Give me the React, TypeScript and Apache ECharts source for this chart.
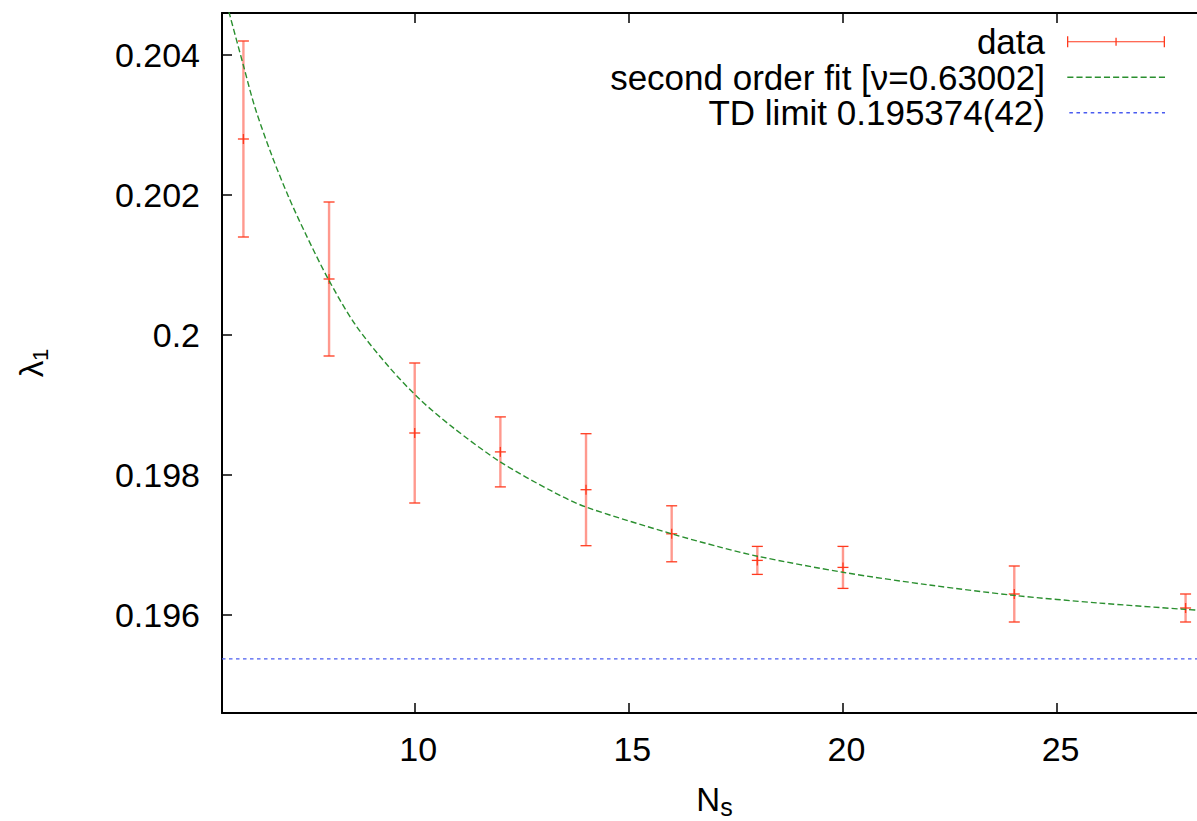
import React, { useEffect, useRef } from "react";
import * as echarts from "echarts";

// ---- data ----
const nsValues = [6, 8, 10, 12, 14, 16, 18, 20, 24, 28];
const lambdaValues = [0.2028, 0.2008, 0.1986, 0.19833, 0.19779, 0.19716, 0.19678, 0.19668, 0.1963, 0.1961];
const lambdaErrors = [0.0014, 0.0011, 0.001, 0.0005, 0.0008, 0.0004, 0.0002, 0.0003, 0.0004, 0.0002];

const fitNs = [5.66, 6.0, 6.27, 6.66, 7.05, 7.44, 7.98, 8.61, 9.39, 10.12, 10.89, 11.99, 13.23, 14.01, 16.0, 17.13, 18, 20, 22, 24, 26, 28, 28.5];
const fitValues = [0.20462, 0.20385, 0.20325, 0.20257, 0.20198, 0.20146, 0.2008, 0.20015, 0.19955, 0.19908, 0.19868, 0.19819, 0.19776, 0.19754, 0.19716, 0.19697, 0.19684, 0.19661, 0.19643, 0.19628, 0.19617, 0.19608, 0.19606];

const tdLimit = 0.195374;
const xRange = [5.5, 28.5];
const yRange = [0.1946, 0.2046];
const xTicks = [10, 15, 20, 25];
const yTicks = [0.196, 0.198, 0.2, 0.202, 0.204];

const seriesNames = ["data", "second order fit [ν=0.63002]", "TD limit 0.195374(42)"];

const FONT = "'Liberation Sans', Arial, Helvetica, sans-serif";
const RED = "#ff3a1e";
const GREEN = "#2a8f2f";
const BLUE = "#4a5cf0";

function dashIcon(dash: number, gap: number, start: number, end: number, h: number): string {
  let d = "M0 0h0.01v0.01H0z";
  for (let x = start; x < end - 0.5; x += dash + gap) {
    const w = Math.min(dash, end - x);
    d += ` M${x} 0h${w}v${h}h-${w}z`;
  }
  return "path://" + d;
}

const dataIcon =
  "path://M0 5.5h0.01v0.01H0z " +
  "M17 4.9h98v1.2H17z " +
  "M17 0h1.3v11H17z " +
  "M113.7 0h1.3v11h-1.3z " +
  "M65.4 1.5h1.3v8h-1.3z";

export default function App() {
  const ref = useRef<HTMLDivElement>(null);
  useEffect(() => {
    if (!ref.current) return;
    const chart = echarts.init(ref.current, null, { renderer: "svg" });

    const errData = nsValues.map((n, i) => [n, lambdaValues[i], lambdaValues[i] - lambdaErrors[i], lambdaValues[i] + lambdaErrors[i]]);
    const fitData = fitNs.map((n, i) => [n, fitValues[i]]);
    const tdData = [[xRange[0], tdLimit], [xRange[1], tdLimit]];

    const axisCommon = {
      type: "value" as const,
      axisLine: { show: true, lineStyle: { color: "#000", width: 2 } },
      splitLine: { show: false },
    };

    chart.setOption({
      animation: false,
      backgroundColor: "#fff",
      grid: { left: 222, top: 13, width: 985, height: 700, outerBoundsMode: "none", containLabel: false },
      legend: {
        orient: "vertical",
        right: 32,
        top: 24,
        padding: 0,
        itemGap: 0,
        align: "right",
        itemWidth: 115,
        itemHeight: 14,
        selectedMode: false,
        itemStyle: { borderWidth: 0 },
        textStyle: { fontSize: 35, fontFamily: FONT, color: "#000", lineHeight: 35.5 },
        data: [
          { name: seriesNames[0], icon: dataIcon },
          { name: seriesNames[1], icon: dashIcon(6, 3, 17, 115, 1.3) },
          { name: seriesNames[2], icon: dashIcon(3.5, 3.5, 19, 113, 1.3) },
        ],
      },
      xAxis: [
        {
          ...axisCommon,
          position: "bottom",
          min: xRange[0],
          max: xRange[1],
          axisTick: { show: true, inside: true, length: 10, customValues: xTicks, lineStyle: { color: "#000", width: 1.5 } },
          axisLabel: { show: true, customValues: xTicks, fontSize: 34, fontFamily: FONT, color: "#000", margin: 19, padding: [0, 0, 0, 7] },
          name: "{n|N}{s|s}",
          nameLocation: "middle",
          nameGap: 66,
          nameTextStyle: {
            rich: {
              n: { fontSize: 33, fontFamily: FONT, color: "#000", lineHeight: 40 },
              s: { fontSize: 25, fontFamily: FONT, color: "#000", lineHeight: 18, verticalAlign: "bottom" },
            },
          },
        },
        {
          ...axisCommon,
          position: "top",
          min: xRange[0],
          max: xRange[1],
          axisTick: { show: true, inside: true, length: 10, customValues: xTicks, lineStyle: { color: "#000", width: 1.5 } },
          axisLabel: { show: false },
        },
      ],
      yAxis: [
        {
          ...axisCommon,
          position: "left",
          min: yRange[0],
          max: yRange[1],
          axisTick: { show: true, inside: true, length: 10, customValues: yTicks, lineStyle: { color: "#000", width: 1.5 } },
          axisLabel: {
            show: true,
            customValues: yTicks,
            fontSize: 34,
            fontFamily: FONT,
            color: "#000",
            margin: 22,
            formatter: (v: number) => String(Number(v.toFixed(4))),
          },
          name: "{l|λ}{o|1}",
          nameLocation: "middle",
          nameGap: 171,
          nameTextStyle: {
            rich: {
              l: { fontSize: 33, fontFamily: FONT, color: "#000", lineHeight: 40 },
              o: { fontSize: 22, fontFamily: FONT, color: "#000", lineHeight: 18, verticalAlign: "bottom" },
            },
          },
        },
        {
          ...axisCommon,
          position: "right",
          min: yRange[0],
          max: yRange[1],
          axisTick: { show: true, inside: true, length: 10, customValues: yTicks, lineStyle: { color: "#000", width: 1.5 } },
          axisLabel: { show: false },
        },
      ],
      series: [
        {
          name: seriesNames[0],
          type: "custom",
          xAxisIndex: 0,
          yAxisIndex: 0,
          itemStyle: { color: RED },
          encode: { x: 0, y: 1 },
          data: errData,
          renderItem: (params: any, api: any) => {
            const x = api.value(0);
            const c = api.coord([x, api.value(1)]);
            const lo = api.coord([x, api.value(2)]);
            const hi = api.coord([x, api.value(3)]);
            const hw = 5.5;
            return {
              type: "group",
              children: [
                { type: "line", shape: { x1: c[0], y1: hi[1], x2: c[0], y2: lo[1] }, style: { stroke: "rgba(255,70,50,0.55)", lineWidth: 2.4 } },
                { type: "line", shape: { x1: c[0] - hw, y1: hi[1], x2: c[0] + hw, y2: hi[1] }, style: { stroke: RED, lineWidth: 1.3 } },
                { type: "line", shape: { x1: c[0] - hw, y1: lo[1], x2: c[0] + hw, y2: lo[1] }, style: { stroke: RED, lineWidth: 1.3 } },
                { type: "line", shape: { x1: c[0] - hw, y1: c[1], x2: c[0] + hw, y2: c[1] }, style: { stroke: RED, lineWidth: 1.3 } },
                { type: "line", shape: { x1: c[0], y1: c[1] - 5, x2: c[0], y2: c[1] + 5 }, style: { stroke: RED, lineWidth: 1.3 } },
              ],
            };
          },
        },
        {
          name: seriesNames[1],
          type: "line",
          data: fitData,
          showSymbol: false,
          symbol: "none",
          smooth: 0.3,
          clip: true,
          itemStyle: { color: GREEN },
          lineStyle: { color: GREEN, width: 1.4, type: [6, 3] },
          z: 3,
        },
        {
          name: seriesNames[2],
          type: "line",
          data: tdData,
          showSymbol: false,
          symbol: "none",
          itemStyle: { color: BLUE },
          lineStyle: { color: BLUE, width: 1.3, type: [3.5, 3.5] },
        },
      ],
    });
    return () => chart.dispose();
  }, []);
  return <div ref={ref} style={{ position: "fixed", left: 0, top: 0, width: 1197, height: 821, background: "#fff" }} />;
}
